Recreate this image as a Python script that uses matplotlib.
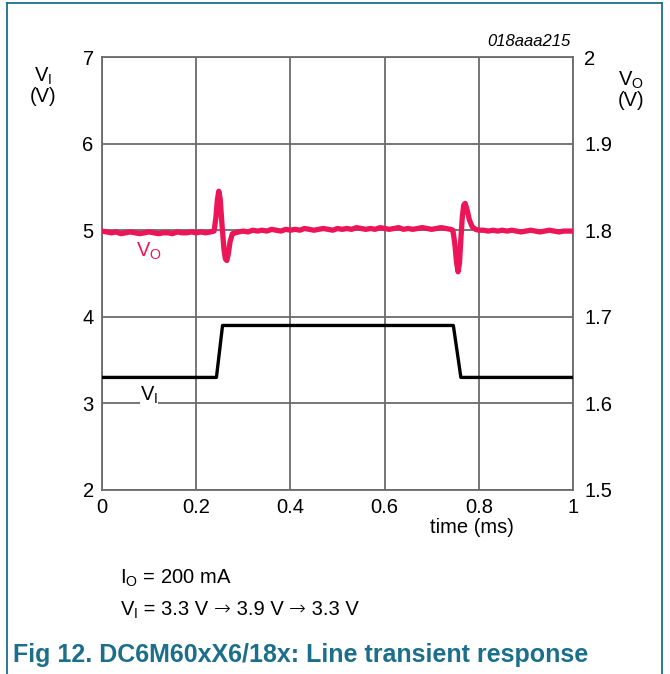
import matplotlib
matplotlib.use("Agg")
import matplotlib.pyplot as plt
from matplotlib.lines import Line2D

plt.rcParams["font.family"] = ["Liberation Sans", "DejaVu Sans"]
plt.rcParams["mathtext.fontset"] = "custom"
plt.rcParams["mathtext.rm"] = "Liberation Sans"
plt.rcParams["mathtext.it"] = "Liberation Sans:italic"

# input voltage step (V)
vi_t = [0.0, 0.243, 0.256, 0.746, 0.762, 1.0]
vi_v = [3.3, 3.3, 3.9, 3.9, 3.3, 3.3]

# output voltage (V)
vo_t = [0.0, 0.01, 0.02, 0.03, 0.04, 0.05, 0.06, 0.07, 0.08, 0.09, 0.10,
        0.11, 0.12, 0.13, 0.14, 0.15, 0.16, 0.17, 0.18, 0.19, 0.20, 0.21,
        0.22, 0.23, 0.238, 0.242, 0.245, 0.248, 0.251, 0.255, 0.259, 0.262,
        0.265, 0.268, 0.272, 0.277, 0.283, 0.29, 0.30, 0.31, 0.32, 0.33,
        0.34, 0.35, 0.36, 0.37, 0.38, 0.39, 0.40, 0.41, 0.42, 0.43, 0.44,
        0.45, 0.46, 0.47, 0.48, 0.49, 0.50, 0.51, 0.52, 0.53, 0.54, 0.55,
        0.56, 0.57, 0.58, 0.59, 0.60, 0.61, 0.62, 0.63, 0.64, 0.65, 0.66,
        0.67, 0.68, 0.69, 0.70, 0.71, 0.72, 0.73, 0.74, 0.745, 0.749, 0.753,
        0.756, 0.759, 0.762, 0.765, 0.768, 0.771, 0.775, 0.78, 0.786, 0.793,
        0.80, 0.81, 0.82, 0.83, 0.84, 0.85, 0.86, 0.87, 0.88, 0.89, 0.90,
        0.91, 0.92, 0.93, 0.94, 0.95, 0.96, 0.97, 0.98, 0.99, 1.0]
vo_v = [1.799, 1.798, 1.797, 1.798, 1.796, 1.797, 1.798, 1.797, 1.796, 1.797, 1.798,
        1.797, 1.796, 1.797, 1.797, 1.796, 1.798, 1.797, 1.797, 1.798, 1.797, 1.798,
        1.797, 1.798, 1.799, 1.815, 1.835, 1.845, 1.836, 1.805, 1.778, 1.767,
        1.765, 1.772, 1.787, 1.796, 1.797, 1.798, 1.799, 1.798, 1.800, 1.799,
        1.800, 1.799, 1.801, 1.800, 1.799, 1.801, 1.800, 1.801, 1.800, 1.802, 1.801,
        1.800, 1.801, 1.802, 1.801, 1.800, 1.802, 1.801, 1.802, 1.801, 1.803, 1.802,
        1.801, 1.802, 1.801, 1.803, 1.802, 1.801, 1.802, 1.803, 1.801, 1.802, 1.801,
        1.802, 1.803, 1.802, 1.801, 1.802, 1.803, 1.802, 1.801, 1.800, 1.785, 1.762,
        1.752, 1.762, 1.790, 1.815, 1.829, 1.831, 1.824, 1.812, 1.804, 1.801,
        1.800, 1.800, 1.799, 1.800, 1.799, 1.800, 1.799, 1.800, 1.799, 1.798, 1.799,
        1.800, 1.799, 1.798, 1.799, 1.800, 1.799, 1.798, 1.799, 1.799, 1.799]

x_ticks = [0, 0.2, 0.4, 0.6, 0.8, 1]
x_labels = ["0", "0.2", "0.4", "0.6", "0.8", "1"]
vi_ticks = [2, 3, 4, 5, 6, 7]
vo_ticks = [1.5, 1.6, 1.7, 1.8, 1.9, 2]
vo_labels = ["1.5", "1.6", "1.7", "1.8", "1.9", "2"]

teal = "#1b6f8a"
pink = "#ec1557"
grid_c = "#6b6b6b"
fs = 14.5

fig = plt.figure(figsize=(6.7, 6.74), dpi=100)

# page frame: top, left, right
fig.add_artist(Line2D([0.0105, 0.0105], [0, 0.9955], color=teal, lw=1.3, transform=fig.transFigure))
fig.add_artist(Line2D([0.988, 0.988], [0, 0.9955], color=teal, lw=1.3, transform=fig.transFigure))
fig.add_artist(Line2D([0.0105, 0.988], [0.9955, 0.9955], color=teal, lw=1.3, transform=fig.transFigure))

ax = fig.add_axes([0.1522, 0.273, 0.703, 0.6424])
ax.set_xlim(0, 1)
ax.set_ylim(2, 7)
ax.set_xticks(x_ticks)
ax.set_xticklabels(x_labels)
ax.set_yticks(vi_ticks)
ax.grid(True, color=grid_c, lw=1.3)
ax.tick_params(length=0, labelsize=fs, pad=6)
for s in ax.spines.values():
    s.set_color(grid_c)
    s.set_linewidth(1.3)

ax2 = ax.twinx()
ax2.set_ylim(1.5, 2.0)
ax2.set_yticks(vo_ticks)
ax2.set_yticklabels(vo_labels)
ax2.tick_params(length=0, labelsize=fs, pad=8)
for s in ax2.spines.values():
    s.set_visible(False)

ax.plot(vi_t, vi_v, color="black", lw=2.4, zorder=3)
ax2.plot(vo_t, vo_v, color=pink, lw=3.8, zorder=3)

ax.text(0.1, 3.03, r"V$_\mathrm{I}$", color="black", fontsize=fs, ha="center", va="baseline",
        bbox=dict(facecolor="white", edgecolor="none", pad=0), zorder=4)
ax2.text(0.1, 1.788, r"V$_\mathrm{O}$", color=pink, fontsize=fs, ha="center", va="top", zorder=4)

fig.text(0.064, 0.872, "V$_\\mathrm{I}$\n(V)", fontsize=fs, ha="center", va="center", linespacing=1.0)
fig.text(0.942, 0.866, "V$_\\mathrm{O}$\n(V)", fontsize=fs, ha="center", va="center", linespacing=1.0)
fig.text(0.851, 0.927, "018aaa215", fontsize=12, style="italic", ha="right", va="bottom")
fig.text(0.705, 0.218, "time (ms)", fontsize=fs, ha="center", va="center")

fig.text(0.179, 0.142, r"I$_\mathrm{O}$ = 200 mA", fontsize=fs, ha="left", va="center")

# second condition line, built piece by piece so the arrows use a wider glyph
pieces = [(r"V$_\mathrm{I}$", "Liberation Sans"), (" = 3.3 V ", "Liberation Sans"),
          ("\u2192", "DejaVu Sans"), (" 3.9 V ", "Liberation Sans"),
          ("\u2192", "DejaVu Sans"), (" 3.3 V", "Liberation Sans")]
x0 = 0.179
y0 = 0.087
fig.canvas.draw()
for txt, fam in pieces:
    t = fig.text(x0, y0, txt, fontsize=fs, family=fam, ha="left", va="baseline",
                 fontweight="light" if fam == "DejaVu Sans" else "normal")
    ext = t.get_window_extent(renderer=fig.canvas.get_renderer())
    x0 = ext.x1 / fig.bbox.width

fig.text(0.019, 0.028, "Fig 12. DC6M60xX6/18x: Line transient response", fontsize=18,
         fontweight="bold", color=teal, ha="left", va="center")

fig.savefig("out.png", dpi=100)
